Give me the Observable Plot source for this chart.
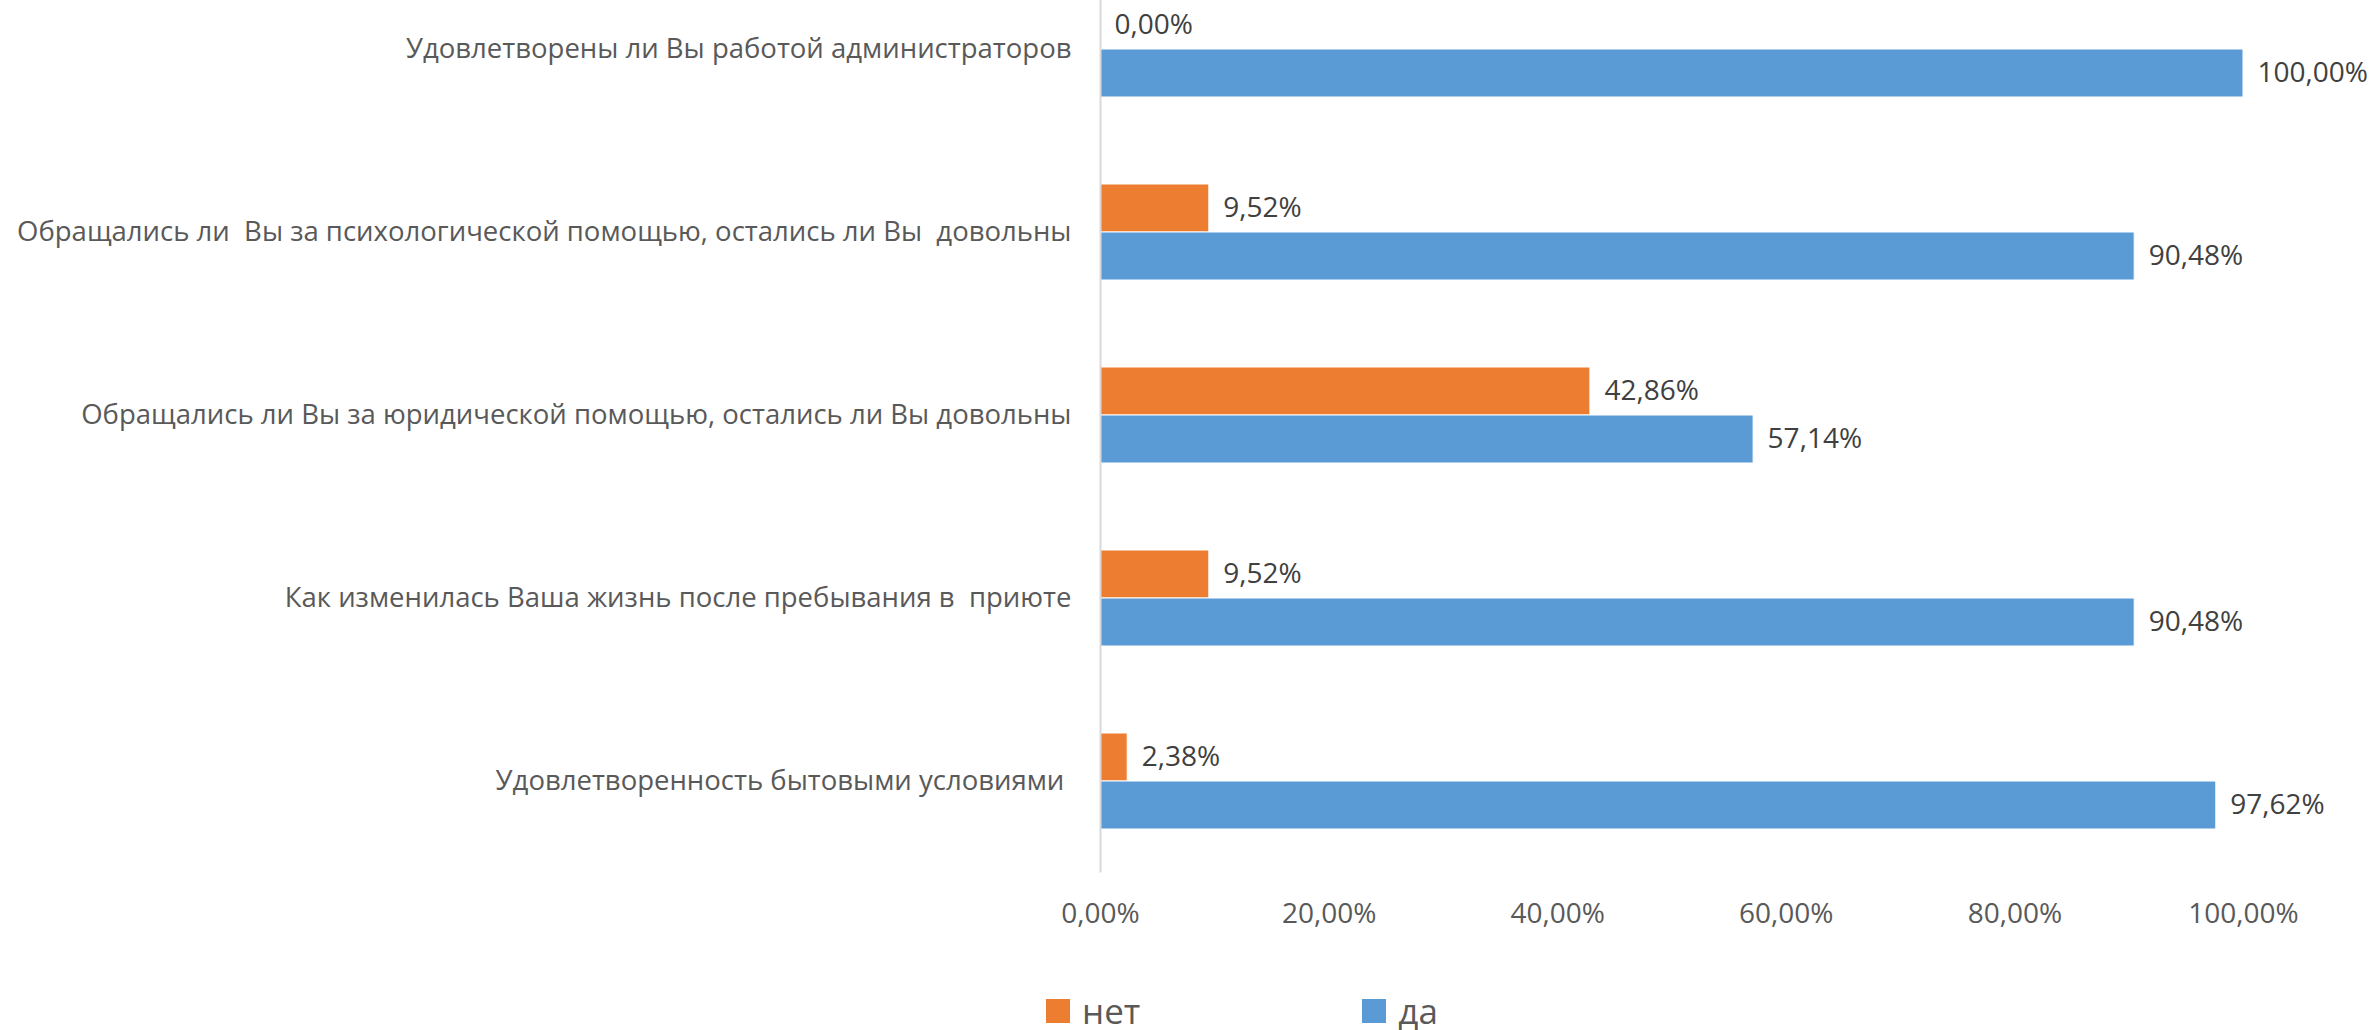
<!DOCTYPE html>
<html>
<head>
<meta charset="utf-8">
<script src="https://cdn.jsdelivr.net/npm/d3@7"></script>
<script src="https://cdn.jsdelivr.net/npm/@observablehq/plot@0.6"></script>
<style>
  html, body { margin: 0; padding: 0; background: #fff; }
  body { width: 2372px; height: 1030px; overflow: hidden; font-family: "Open Sans", sans-serif; }
  svg text { white-space: pre; }
  #legend { display: flex; align-items: center; height: 36px; margin-top: 18px; margin-left: 1046px; font-family: "Open Sans", sans-serif; font-size: 35px; color: #595959; }
  .item { display: flex; align-items: center; line-height: 36px; }
  .sw { width: 24px; height: 24px; margin-right: 12px; }
</style>
</head>
<body>
<div id="chart"></div>
<div id="legend"></div>
<script>
// Categories, top to bottom
const categories = [
  "Удовлетворены ли Вы работой администраторов",
  "Обращались ли  Вы за психологической помощью, остались ли Вы  довольны",
  "Обращались ли Вы за юридической помощью, остались ли Вы довольны",
  "Как изменилась Ваша жизнь после пребывания в  приюте",
  "Удовлетворенность бытовыми условиями "
];
const seriesNames = ["нет", "да"];
const netValues = [0.00, 9.52, 42.86, 9.52, 2.38];
const daValues = [100.00, 90.48, 57.14, 90.48, 97.62];
const xTicks = [0, 20, 40, 60, 80, 100];

const colors = {"нет": "#ED7D31", "да": "#5B9BD5"};
const fmt = v => v.toFixed(2).replace(".", ",") + "%";

// layout constants
const W = 2372, H = 975;
const barFrac = 0.2623; // bar thickness as fraction of category step

const rows = [];
categories.forEach((c, i) => {
  rows.push({cat: c, i, series: "нет", value: netValues[i], y1: i - barFrac, y2: i});
  rows.push({cat: c, i, series: "да", value: daValues[i], y1: i, y2: i + barFrac});
});

const chart = Plot.plot({
  width: W,
  height: H,
  marginLeft: 1100,
  marginRight: 129,
  marginTop: 0,
  marginBottom: H - 872.5,
  style: {fontFamily: "Open Sans, sans-serif", background: "#fff"},
  x: {domain: [0, 100]},
  y: {domain: [-0.5, categories.length - 0.5], range: [-42.5, 872.5]},
  marks: [
    Plot.rectX(rows, {x1: 0, x2: "value", y1: "y1", y2: "y2", fill: d => colors[d.series], stroke: "#fff", strokeWidth: 1}),
    Plot.ruleX([0], {stroke: "#d9d9d9", strokeWidth: 2}),
    Plot.text(rows, {
      x: "value", y: d => (d.y1 + d.y2) / 2, text: d => fmt(d.value),
      textAnchor: "start", dx: 14, fontSize: 28, fill: "#404040"
    }),
    Plot.axisX({ticks: xTicks, tickFormat: fmt, tickSize: 0, tickPadding: 30, fontSize: 28, fill: "#595959", label: null}),
    Plot.axisY({ticks: categories.map((_, i) => i), tickFormat: i => categories[i], tickSize: 0, tickPadding: 29, fontSize: 27.5, fill: "#595959", label: null})
  ]
});
document.getElementById("chart").appendChild(chart);

const legend = document.getElementById("legend");
seriesNames.forEach((s, k) => {
  const item = document.createElement("div");
  item.className = "item";
  if (k > 0) item.style.marginLeft = "222px";
  const sw = document.createElement("div");
  sw.className = "sw";
  sw.style.background = colors[s];
  const t = document.createElement("span");
  t.textContent = s;
  item.appendChild(sw);
  item.appendChild(t);
  legend.appendChild(item);
});
</script>
</body>
</html>
